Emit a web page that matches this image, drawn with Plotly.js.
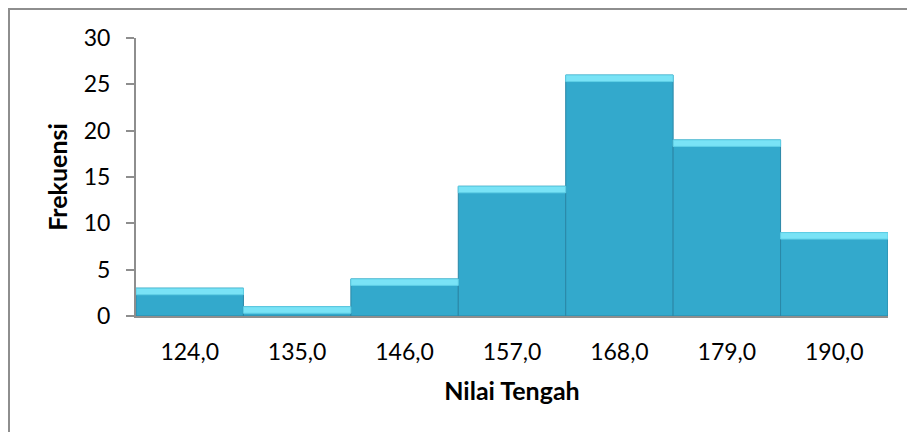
<!DOCTYPE html>
<html>
<head>
<meta charset="utf-8">
<script src="https://cdn.plot.ly/plotly-3.0.1.min.js"></script>
<style>
  html, body { margin:0; padding:0; background:#fff; }
  #wrap { position:relative; width:907px; height:432px; overflow:hidden; }
  #chart { position:absolute; left:0; top:0; width:907px; height:432px; }
  #frame { position:absolute; left:8px; top:8px; width:920px; height:440px;
           border:2px solid #8e8e8e; pointer-events:none; box-sizing:border-box; }
</style>
</head>
<body>
<div id="wrap">
  <div id="chart"></div>
  <div id="frame"></div>
</div>
<script>
const categories = ["124,0", "135,0", "146,0", "157,0", "168,0", "179,0", "190,0"];
const frequencies = [3, 1, 4, 14, 26, 19, 9];
const yTicks = [0, 5, 10, 15, 20, 25, 30];

const bevel = 0.7;
const bodyTrace = {
  type: 'bar',
  x: categories,
  y: frequencies,
  marker: { color: '#33a9cc', line: { color: '#2a87a6', width: 1 } },
  hoverinfo: 'x+y'
};
const topTrace = {
  type: 'bar',
  x: categories,
  y: frequencies.map(v => Math.min(bevel, v)),
  base: frequencies.map(v => v - Math.min(bevel, v)),
  marker: { color: '#79e3f6', line: { color: '#5fcfe6', width: 1 } },
  hoverinfo: 'skip'
};

const font = "Lato, 'Open Sans', sans-serif";
const layout = {
  width: 907, height: 432,
  margin: { l: 136, r: 19, t: 38, b: 116 },
  paper_bgcolor: '#fff', plot_bgcolor: '#fff',
  showlegend: false,
  barmode: 'overlay',
  bargap: 0,
  font: { family: font, size: 23, color: '#000' },
  xaxis: {
    type: 'category',
    showline: true, linecolor: '#8e8e8e', linewidth: 2,
    ticks: '', showgrid: false, zeroline: false,
    tickfont: { family: font, size: 23, color: '#000' },
    ticklabelstandoff: 14,
    title: { text: '<b>Nilai Tengah</b>', font: { family: font, size: 25, color: '#000' }, standoff: 19 }
  },
  yaxis: {
    range: [0, 30],
    tickvals: yTicks,
    ticktext: yTicks.map(String),
    showline: true, linecolor: '#8e8e8e', linewidth: 2,
    ticks: 'outside', ticklen: 8, tickcolor: '#8e8e8e', tickwidth: 2,
    showgrid: false, zeroline: false,
    tickfont: { family: font, size: 23, color: '#000' },
    ticklabelstandoff: 11,
    title: { text: '<b>Frekuensi</b>', font: { family: font, size: 25, color: '#000' }, standoff: 9 }
  }
};

Plotly.newPlot('chart', [bodyTrace, topTrace], layout, { displayModeBar: false, staticPlot: true });
</script>
</body>
</html>
